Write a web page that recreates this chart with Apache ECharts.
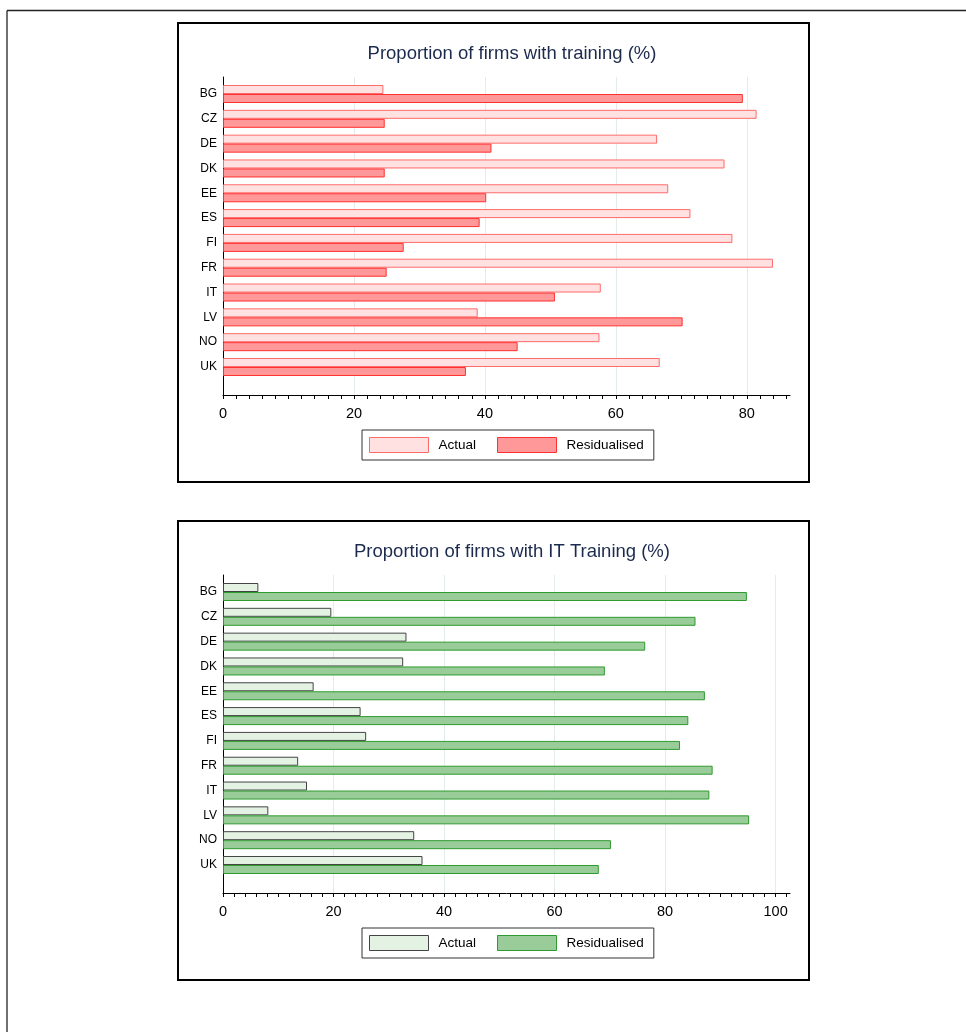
<!DOCTYPE html>
<html>
<head>
<meta charset="utf-8">
<script src="https://cdn.jsdelivr.net/npm/echarts@6/dist/echarts.min.js"></script>
<style>
  html, body { margin: 0; padding: 0; background: #fff; }
  #chart { width: 966px; height: 1032px; }
</style>
</head>
<body>
<div id="chart"></div>
<script>
// Countries shown on the vertical axis (top to bottom)
const countries = ['BG', 'CZ', 'DE', 'DK', 'EE', 'ES', 'FI', 'FR', 'IT', 'LV', 'NO', 'UK'];

// Proportion of firms with training (%)
const trainingActual = [24.5, 81.5, 66.3, 76.6, 68.0, 71.4, 77.8, 84.0, 57.7, 38.9, 57.5, 66.7];
const trainingResidualised = [79.4, 24.7, 41.0, 24.7, 40.2, 39.2, 27.6, 25.0, 50.7, 70.2, 45.0, 37.1];

// Proportion of firms with IT training (%)
const itActual = [6.4, 19.6, 33.2, 32.6, 16.4, 24.9, 25.9, 13.6, 15.2, 8.2, 34.6, 36.1];
const itResidualised = [94.8, 85.5, 76.4, 69.1, 87.2, 84.2, 82.7, 88.6, 88.0, 95.2, 70.2, 68.0];

// Axis tick labels
const trainingTicks = [0, 20, 40, 60, 80];
const itTicks = [0, 20, 40, 60, 80, 100];
const minorStep = 2;

const seriesNames = ['Actual', 'Residualised'];

const SANS = '"Liberation Sans", Arial, Helvetica, sans-serif';

function minorTicks(max) {
  const out = [];
  for (let v = 0; v <= max; v += minorStep) out.push(v);
  return out;
}

// One panel: framed plot grid (axes + gridlines) and an inner grid holding the bars
function panel(idx, offsetY, cfg) {
  const frameGrid = { left: 223, top: 77 + offsetY, width: 567, height: 318 };
  const barGrid = { left: 223, top: 81.6 + offsetY, width: 567, height: 297.8 };
  const g0 = idx * 2, g1 = idx * 2 + 1;
  const xBase = idx * 3;
  const yBase = idx * 2;

  const xAxes = [
    { // major ticks, labels, gridlines
      gridIndex: g0, type: 'value', min: 0, max: cfg.max, position: 'bottom',
      axisLine: { show: true, lineStyle: { color: '#000', width: 1 } },
      axisTick: { show: true, customValues: cfg.ticks, length: 4, lineStyle: { color: '#000' } },
      axisLabel: { customValues: cfg.ticks, fontFamily: SANS, fontSize: 14.5, color: '#000', margin: 11 },
      splitLine: { show: true, lineStyle: { color: '#e3ebec', width: 1 } }
    },
    { // minor ticks
      gridIndex: g0, type: 'value', min: 0, max: cfg.max, position: 'bottom', offset: 0,
      axisLine: { show: false },
      axisTick: { show: true, customValues: minorTicks(cfg.max), length: 4, lineStyle: { color: '#000' } },
      axisLabel: { show: false },
      splitLine: { show: false }
    },
    { // value scale for the bars
      gridIndex: g1, type: 'value', min: 0, max: cfg.max, show: false
    }
  ];

  const yAxes = [
    {
      gridIndex: g0, type: 'value', position: 'left',
      axisLine: { show: true, lineStyle: { color: '#000', width: 1 } },
      axisTick: { show: false }, axisLabel: { show: false }, splitLine: { show: false }
    },
    {
      gridIndex: g1, type: 'category', data: countries, inverse: true,
      axisLine: { show: false }, axisTick: { show: false }, splitLine: { show: false },
      axisLabel: { fontFamily: SANS, fontSize: 12, color: '#000', margin: 6 }
    }
  ];

  const series = [
    {
      name: seriesNames[0], type: 'bar', xAxisIndex: xBase + 2, yAxisIndex: yBase + 1,
      data: cfg.actual, barWidth: 9, barGap: '0%',
      itemStyle: { color: cfg.actualFill, borderColor: cfg.actualBorder, borderWidth: 1 }
    },
    {
      name: seriesNames[1], type: 'bar', xAxisIndex: xBase + 2, yAxisIndex: yBase + 1,
      data: cfg.resid, barWidth: 9, barGap: '0%',
      itemStyle: { color: cfg.residFill, borderColor: cfg.residBorder, borderWidth: 1 }
    }
  ];

  const title = {
    text: cfg.title, left: 507, top: 39 + offsetY, textAlign: 'center',
    textStyle: { fontFamily: SANS, fontSize: 18.5, fontWeight: 'normal', color: '#1c2a4e' }
  };

  const legend = {
    left: 362, top: 430 + offsetY, orient: 'horizontal',
    padding: [7, 10, 7, 7], borderColor: '#333', borderWidth: 1,
    itemWidth: 59, itemHeight: 15, itemGap: 21, icon: 'rect',
    selectedMode: false,
    textStyle: { fontFamily: SANS, fontSize: 13.5, color: '#000', padding: [0, 0, 0, 5] },
    data: [
      { name: seriesNames[0], itemStyle: { color: cfg.actualFill, borderColor: cfg.actualBorder, borderWidth: 1 } },
      { name: seriesNames[1], itemStyle: { color: cfg.residFill, borderColor: cfg.residBorder, borderWidth: 1 } }
    ]
  };

  return { grids: [frameGrid, barGrid], xAxes, yAxes, series, title, legend };
}

const p1 = panel(0, 0, {
  title: 'Proportion of firms with training (%)',
  max: 86.6, ticks: trainingTicks,
  actual: trainingActual, resid: trainingResidualised,
  actualFill: '#ffe1e1', actualBorder: '#ff6b6b',
  residFill: '#ff9999', residBorder: '#ff3030'
});
const p2 = panel(1, 498, {
  title: 'Proportion of firms with IT Training (%)',
  max: 102.6, ticks: itTicks,
  actual: itActual, resid: itResidualised,
  actualFill: '#e4f2e4', actualBorder: '#444444',
  residFill: '#99cc99', residBorder: '#2f9a2f'
});

const chart = echarts.init(document.getElementById('chart'), null, { renderer: 'canvas' });
chart.setOption({
  backgroundColor: '#fff',
  animation: false,
  title: [p1.title, p2.title],
  legend: [p1.legend, p2.legend],
  grid: p1.grids.concat(p2.grids),
  xAxis: p1.xAxes.concat(p2.xAxes),
  yAxis: p1.yAxes.concat(p2.yAxes),
  series: p1.series.concat(p2.series),
  graphic: [
    // page border
    { type: 'line', shape: { x1: 7, y1: 10.5, x2: 966, y2: 10.5 }, style: { stroke: '#222', lineWidth: 1.3 }, silent: true },
    { type: 'line', shape: { x1: 7, y1: 10.5, x2: 7, y2: 1032 }, style: { stroke: '#222', lineWidth: 1.3 }, silent: true },
    // panel frames
    { type: 'rect', shape: { x: 178, y: 23, width: 631, height: 459 }, style: { fill: 'none', stroke: '#000', lineWidth: 2 }, silent: true },
    { type: 'rect', shape: { x: 178, y: 521, width: 631, height: 459 }, style: { fill: 'none', stroke: '#000', lineWidth: 2 }, silent: true }
  ]
});
</script>
</body>
</html>
